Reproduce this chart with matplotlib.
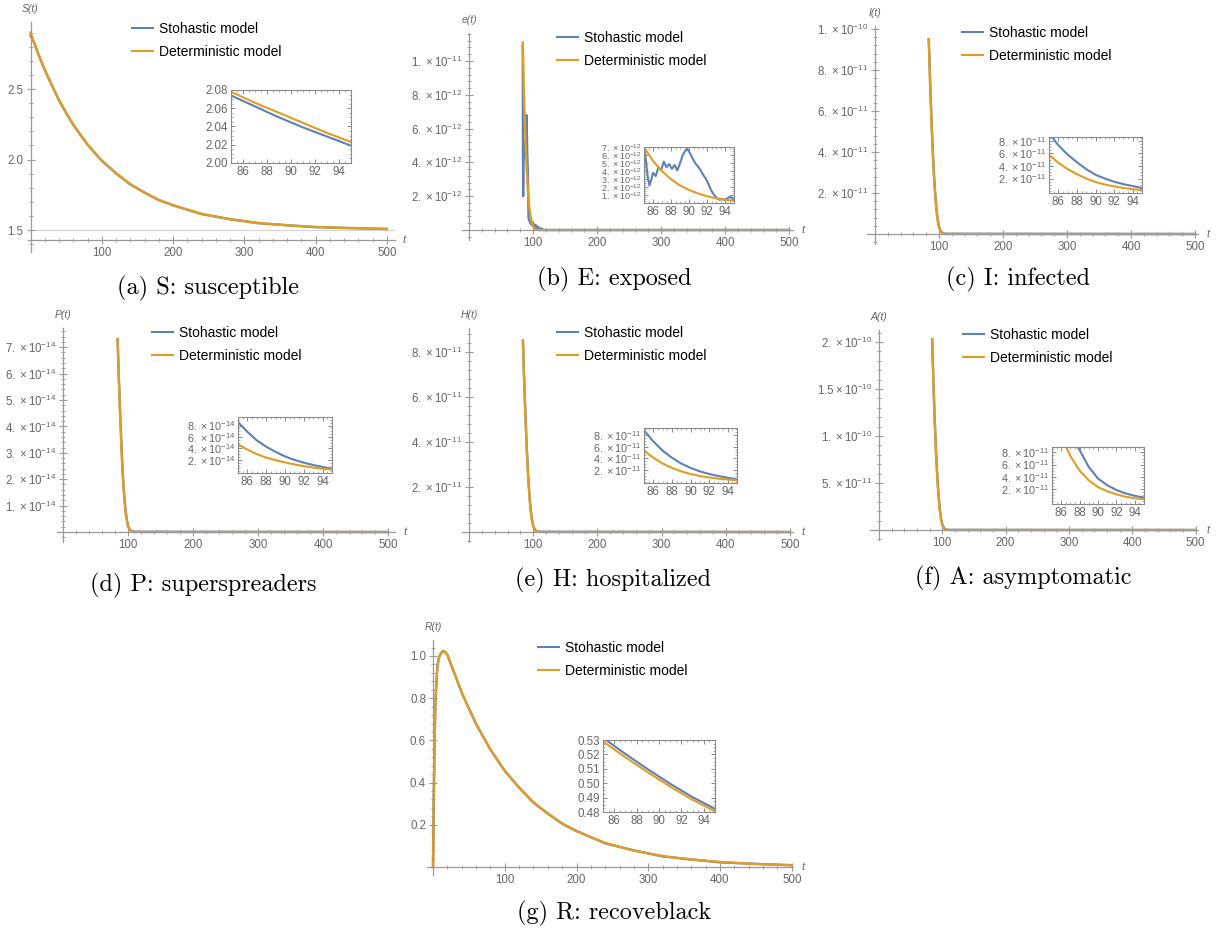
import numpy as np
import matplotlib.pyplot as plt
from matplotlib.ticker import FixedLocator, MultipleLocator, AutoMinorLocator, FuncFormatter
from matplotlib.lines import Line2D

plt.rcParams['font.family'] = ['Liberation Sans', 'DejaVu Sans']

W, H = 1223, 930
BLUE = '#5e81b5'
ORANGE = '#e19c24'
AXIS = '#9a9a9a'
LABEL = '#666666'

# ---------------- data ----------------
x_ticks = [100, 200, 300, 400, 500]
zoom_xticks = [86, 88, 90, 92, 94]

# (a) S: susceptible
s_t = [0, 5, 10, 20, 30, 40, 50, 60, 70, 80, 90, 100, 120, 140, 160, 180, 200,
       240, 280, 320, 360, 400, 450, 500]
s_det = [2.900, 2.829, 2.761, 2.637, 2.525, 2.423, 2.332, 2.249, 2.175, 2.109, 2.049,
         1.994, 1.902, 1.826, 1.765, 1.714, 1.675, 1.615, 1.576, 1.550, 1.533, 1.522,
         1.513, 1.508]
s_sto = [2.880, 2.830, 2.758, 2.634, 2.527, 2.419, 2.330, 2.246, 2.176, 2.106, 2.047,
         1.991, 1.903, 1.823, 1.766, 1.712, 1.676, 1.613, 1.577, 1.548, 1.534, 1.520,
         1.514, 1.507]
s_zoom_t = [85, 87, 89, 91, 93, 95]
s_zoom_det = [2.078, 2.066, 2.055, 2.044, 2.033, 2.023]
s_zoom_sto = [2.074, 2.062, 2.050, 2.039, 2.029, 2.019]

# common time grids for the fast-decaying compartments
peak_t = [84, 86, 88, 90, 92, 94, 96, 98, 100, 103, 106, 110, 500]
zoom_t = [85, 86, 87, 88, 89, 90, 91, 92, 93, 94, 95]

# (b) E: exposed  (x 1e-12)
e_det = [11.1, 7.9, 5.5, 3.7, 2.4, 1.45, 0.85, 0.45, 0.2, 0.06, 0.015, 0, 0]
e_sto_t = [84, 84.3, 84.6, 85, 86, 87, 88, 89, 89.6, 90.2, 91, 92, 93, 94, 96, 98,
           100, 102, 104, 106, 108, 110, 113, 116, 500]
e_sto = [10.9, 5.6, 2.0, 5.2, 4.3, 4.9, 4.6, 5.2, 6.8, 6.2, 4.5, 3.3, 0.7, 0.6, 0.4,
         0.3, 0.45, 0.1, 0.3, 0.05, 0.2, 0.0, 0.1, 0.0, 0.0]
e_zoom_det = [7.0, 5.3, 4.0, 3.0, 2.2, 1.65, 1.2, 0.85, 0.6, 0.4, 0.3]
e_zoom_sto_t = [85.0, 85.2, 85.4, 85.6, 85.8, 86.0, 86.3, 86.6, 86.9, 87.2, 87.5, 87.8,
                88.1, 88.4, 88.7, 89.0, 89.3, 89.6, 89.8, 90.1, 90.4, 90.7, 91.0, 91.3,
                91.6, 91.9, 92.2, 92.5, 92.8, 93.1, 93.4, 93.7, 94.0, 94.3, 94.6, 95.0]
e_zoom_sto = [7.0, 5.5, 3.4, 2.2, 2.9, 3.8, 3.4, 4.5, 4.1, 5.2, 4.5, 4.9, 4.3, 4.8,
              4.1, 5.0, 6.0, 6.6, 6.8, 6.3, 5.6, 5.0, 4.6, 4.1, 3.5, 3.0, 2.3, 1.5,
              1.0, 0.6, 0.4, 0.5, 0.4, 0.6, 0.8, 0.4]

# (c) I: infected  (x 1e-11)
i_det = [9.5, 7.4, 5.6, 4.1, 2.9, 1.9, 1.15, 0.65, 0.32, 0.1, 0.03, 0, 0]
i_sto = [9.5, 7.6, 5.8, 4.3, 3.0, 2.0, 1.25, 0.7, 0.35, 0.12, 0.04, 0.01, 0]
i_zoom_sto = [9.2, 7.3, 5.8, 4.6, 3.5, 2.6, 2.0, 1.5, 1.1, 0.8, 0.5]
i_zoom_det = [5.8, 4.5, 3.5, 2.7, 2.0, 1.45, 1.05, 0.75, 0.5, 0.3, 0.15]

# (d) P: superspreaders  (x 1e-14)
p_det = [7.3, 5.7, 4.3, 3.1, 2.1, 1.35, 0.8, 0.45, 0.2, 0.07, 0.02, 0, 0]
p_sto = [7.3, 5.8, 4.45, 3.25, 2.2, 1.45, 0.87, 0.5, 0.24, 0.08, 0.03, 0.01, 0]
p_zoom_sto = [8.6, 6.9, 5.4, 4.3, 3.4, 2.6, 2.0, 1.5, 1.1, 0.75, 0.45]
p_zoom_det = [4.7, 3.8, 3.0, 2.4, 1.95, 1.55, 1.2, 0.9, 0.65, 0.45, 0.3]

# (e) H: hospitalized  (x 1e-11)
h_det = [8.5, 6.6, 5.0, 3.6, 2.5, 1.6, 0.95, 0.52, 0.25, 0.08, 0.02, 0, 0]
h_sto = [8.5, 6.7, 5.15, 3.75, 2.6, 1.7, 1.02, 0.57, 0.28, 0.09, 0.03, 0.01, 0]
h_zoom_sto = [8.8, 6.9, 5.3, 4.1, 3.1, 2.35, 1.75, 1.3, 0.95, 0.65, 0.4]
h_zoom_det = [5.3, 4.1, 3.1, 2.35, 1.75, 1.3, 0.95, 0.7, 0.5, 0.35, 0.22]

# (f) A: asymptomatic  (x 1e-10 main, x 1e-11 zoom)
a_det = [2.03, 1.55, 1.15, 0.82, 0.56, 0.36, 0.21, 0.11, 0.05, 0.015, 0.004, 0, 0]
a_sto = [2.03, 1.58, 1.18, 0.85, 0.59, 0.38, 0.23, 0.12, 0.06, 0.02, 0.005, 0.001, 0]
a_zoom_sto = [17.0, 13.5, 10.6, 8.4, 5.6, 3.7, 2.6, 1.8, 1.25, 0.85, 0.55]
a_zoom_det = [15.7, 10.8, 7.4, 5.0, 3.4, 2.3, 1.6, 1.1, 0.7, 0.45, 0.3]

# (g) R: recovered
r_t = [0, 1, 2, 3, 4, 6, 8, 11, 14, 17, 20, 25, 30, 40, 50, 60, 70, 80, 90, 100, 120,
       140, 160, 180, 200, 240, 280, 320, 360, 400, 450, 500]
r_det = [0, 0.30, 0.55, 0.72, 0.83, 0.94, 0.99, 1.015, 1.022, 1.02, 1.005, 0.962, 0.915,
         0.828, 0.750, 0.680, 0.616, 0.558, 0.505, 0.457, 0.375, 0.307, 0.252, 0.207,
         0.169, 0.114, 0.077, 0.052, 0.035, 0.024, 0.014, 0.009]
r_sto = [0, 0.31, 0.54, 0.73, 0.82, 0.95, 0.99, 1.012, 1.024, 1.018, 1.007, 0.960, 0.917,
         0.826, 0.752, 0.678, 0.618, 0.556, 0.507, 0.455, 0.377, 0.305, 0.254, 0.205,
         0.171, 0.112, 0.079, 0.050, 0.036, 0.022, 0.015, 0.008]
r_zoom_t = [85, 87, 89, 91, 93, 95]
r_zoom_det = [0.5290, 0.5180, 0.5076, 0.4976, 0.4885, 0.4805]
r_zoom_sto = [0.5315, 0.5203, 0.5097, 0.4996, 0.4903, 0.4822]

legend_labels = ['Stohastic model', 'Deterministic model']

# ---------------- helpers ----------------
fig = plt.figure(figsize=(W / 100, H / 100), dpi=100)


def sci(v):
    if v <= 0:
        return ''
    e = int(np.floor(np.log10(v) + 1e-9))
    m = round(v / 10 ** e, 2)
    ms = f"{int(m)}." if m == int(m) else f"{m:g}"
    return r"$\mathregular{" + ms + r"\times10^{" + str(e) + "}}$"


def formatter(kind):
    if kind == 'sci':
        return FuncFormatter(lambda v, p: sci(v))
    return FuncFormatter(lambda v, p: kind.format(v))


def main_axes(x0, sx, y0, sy, xlim, ylim, yticks, yfmt, cross, ylabel):
    left = x0 + xlim[0] * sx
    right = x0 + xlim[1] * sx
    top = y0 - ylim[1] * sy
    bottom = y0 - ylim[0] * sy
    ax = fig.add_axes([left / W, 1 - bottom / H, (right - left) / W, (bottom - top) / H])
    ax.set_xlim(xlim)
    ax.set_ylim(ylim)
    ax.patch.set_alpha(0)
    for s in ['top', 'right']:
        ax.spines[s].set_visible(False)
    ax.spines['left'].set_position(('data', 0))
    ax.spines['bottom'].set_position(('data', cross))
    for s in ['left', 'bottom']:
        ax.spines[s].set_color(AXIS)
        ax.spines[s].set_linewidth(0.9)
    ax.xaxis.set_major_locator(FixedLocator(x_ticks))
    ax.xaxis.set_minor_locator(MultipleLocator(20))
    ax.yaxis.set_major_locator(FixedLocator(yticks))
    ax.yaxis.set_minor_locator(AutoMinorLocator(5))
    ax.yaxis.set_major_formatter(formatter(yfmt))
    ax.tick_params(which='both', direction='inout', color=AXIS, labelcolor=LABEL, labelsize=8.3)
    ax.tick_params(which='major', length=6, width=0.8, pad=2)
    ax.tick_params(which='minor', length=3, width=0.6)
    ax.annotate(ylabel, xy=(0, ylim[1]), xytext=(0, 9.5), textcoords='offset points',
                ha='center', va='center', style='italic', fontsize=7.5, color=LABEL,
                annotation_clip=False)
    ax.annotate('t', xy=(xlim[1], cross), xytext=(6, 0), textcoords='offset points',
                ha='left', va='center', style='italic', fontsize=8, color=LABEL,
                annotation_clip=False)
    return ax


def inset(box, ylim, yticks, yfmt, t_sto, sto, t_det, det, ysize=7.8):
    l, tp, r, b = box
    ax = fig.add_axes([l / W, 1 - b / H, (r - l) / W, (b - tp) / H])
    ax.plot(t_sto, sto, color=BLUE, lw=1.5)
    ax.plot(t_det, det, color=ORANGE, lw=1.5)
    ax.set_xlim(85, 95)
    ax.set_ylim(ylim)
    for s in ax.spines.values():
        s.set_color('#8a8a8a')
        s.set_linewidth(0.8)
    ax.xaxis.set_major_locator(FixedLocator(zoom_xticks))
    ax.xaxis.set_minor_locator(MultipleLocator(0.5))
    ax.yaxis.set_major_locator(FixedLocator(yticks))
    ax.yaxis.set_minor_locator(AutoMinorLocator(4))
    ax.yaxis.set_major_formatter(formatter(yfmt))
    ax.tick_params(which='both', direction='in', top=True, right=True, color='#8a8a8a',
                   labelcolor=LABEL, labelsize=8.3, pad=2)
    ax.tick_params(axis='y', labelsize=ysize)
    ax.tick_params(which='major', length=3, width=0.7)
    ax.tick_params(which='minor', length=1.5, width=0.5)
    return ax


def legend(ax, x, y):
    handles = [Line2D([], [], color=BLUE, lw=1.5), Line2D([], [], color=ORANGE, lw=1.5)]
    ax.legend(handles, legend_labels, loc='upper left',
              bbox_to_anchor=(x / W, 1 - (y - 7) / H), bbox_transform=fig.transFigure,
              frameon=False, borderpad=0, borderaxespad=0, handlelength=1.5,
              handletextpad=0.45, labelspacing=0.62, fontsize=10)


def caption(x, y, text):
    fig.text(x / W, 1 - y / H, text, ha='center', va='center',
             family=['cmr10', 'DejaVu Serif'], fontsize=17.5)


def scaled(vals, k):
    return [v * k for v in vals]


# ---------------- (a) ----------------
ax = main_axes(30.5, 0.7125, 441.5, 141, (-3.5, 511), (1.344, 2.975),
               [1.5, 2.0, 2.5], '{:.1f}', 1.429, 'S(t)')
ax.axhline(1.5, color='#d3d3d3', lw=0.8, zorder=0)
ax.plot(s_t, s_sto, color=BLUE, lw=1.7)
ax.plot(s_t, s_det, color=ORANGE, lw=1.7)
legend(ax, 132, 29)
inset((231, 90, 351, 163), (2.0, 2.08), [2.00, 2.02, 2.04, 2.06, 2.08], '{:.2f}',
      s_zoom_t, s_zoom_sto, s_zoom_t, s_zoom_det, ysize=8.3)
caption(208, 288, '(a) S: susceptible')

# ---------------- (b) ----------------
ax = main_axes(469, 0.64, 230, 16.9e12, (-11, 506), (-0.59e-12, 11.65e-12),
               [2e-12, 4e-12, 6e-12, 8e-12, 1e-11], 'sci', 0, 'e(t)')
ax.plot(e_sto_t, scaled(e_sto, 1e-12), color=BLUE, lw=1.7)
ax.plot(peak_t, scaled(e_det, 1e-12), color=ORANGE, lw=1.7)
legend(ax, 557, 38)
inset((644, 147, 734, 203), (0, 7.05e-12), [k * 1e-12 for k in range(1, 8)], 'sci',
      e_zoom_sto_t, scaled(e_zoom_sto, 1e-12), zoom_t, scaled(e_zoom_det, 1e-12), ysize=6.5)
caption(614, 279, '(b) E: exposed')

# ---------------- (c) ----------------
ax = main_axes(875, 0.64, 234, 20.5e11, (-12.5, 505), (-0.49e-11, 10.15e-11),
               [2e-11, 4e-11, 6e-11, 8e-11, 1e-10], 'sci', 0, 'I(t)')
ax.plot(peak_t, scaled(i_sto, 1e-11), color=BLUE, lw=1.7)
ax.plot(peak_t, scaled(i_det, 1e-11), color=ORANGE, lw=1.7)
legend(ax, 962, 33)
inset((1049, 137, 1142, 193), (-0.3e-11, 8.6e-11), [2e-11, 4e-11, 6e-11, 8e-11], 'sci',
      zoom_t, scaled(i_zoom_sto, 1e-11), zoom_t, scaled(i_zoom_det, 1e-11))
caption(1018, 279, '(c) I: infected')

# ---------------- (d) ----------------
ax = main_axes(63, 0.65, 532, 26.4e14, (-9, 511), (-0.38e-14, 7.73e-14),
               [k * 1e-14 for k in range(1, 8)], 'sci', 0, 'P(t)')
ax.plot(peak_t, scaled(p_sto, 1e-14), color=BLUE, lw=1.7)
ax.plot(peak_t, scaled(p_det, 1e-14), color=ORANGE, lw=1.7)
legend(ax, 152, 333)
inset((238, 417, 332, 473), (-0.3e-14, 9.5e-14), [2e-14, 4e-14, 6e-14, 8e-14], 'sci',
      zoom_t, scaled(p_zoom_sto, 1e-14), zoom_t, scaled(p_zoom_det, 1e-14))
caption(203, 585, '(d) P: superspreaders')

# ---------------- (e) ----------------
ax = main_axes(469, 0.642, 532, 22.5e11, (-11, 505), (-0.44e-11, 9.07e-11),
               [2e-11, 4e-11, 6e-11, 8e-11], 'sci', 0, 'H(t)')
ax.plot(peak_t, scaled(h_sto, 1e-11), color=BLUE, lw=1.7)
ax.plot(peak_t, scaled(h_det, 1e-11), color=ORANGE, lw=1.7)
legend(ax, 557, 333)
inset((644, 428, 737, 483), (-0.25e-11, 9.2e-11), [2e-11, 4e-11, 6e-11, 8e-11], 'sci',
      zoom_t, scaled(h_zoom_sto, 1e-11), zoom_t, scaled(h_zoom_det, 1e-11))
caption(613, 580, '(e) H: hospitalized')

# ---------------- (f) ----------------
ax = main_axes(879, 0.633, 530, 9.4e11, (-14, 504), (-1.06e-11, 21.3e-11),
               [5e-11, 1e-10, 1.5e-10, 2e-10], 'sci', 0, 'A(t)')
ax.plot(peak_t, scaled(a_sto, 1e-10), color=BLUE, lw=1.7)
ax.plot(peak_t, scaled(a_det, 1e-10), color=ORANGE, lw=1.7)
legend(ax, 963, 335)
inset((1052, 447, 1144, 504), (-0.5e-11, 8.9e-11), [2e-11, 4e-11, 6e-11, 8e-11], 'sci',
      zoom_t, scaled(a_zoom_sto, 1e-11), zoom_t, scaled(a_zoom_det, 1e-11))
caption(1023, 578, '(f) A: asymptomatic')

# ---------------- (g) ----------------
ax = main_axes(433, 0.7175, 867, 211, (-8, 502), (-0.038, 1.076),
               [0.2, 0.4, 0.6, 0.8, 1.0], '{:.1f}', 0, 'R(t)')
ax.plot(r_t, r_sto, color=BLUE, lw=1.7)
ax.plot(r_t, r_det, color=ORANGE, lw=1.7)
legend(ax, 538, 648)
inset((603, 740, 715, 812), (0.48, 0.53), [0.48, 0.49, 0.50, 0.51, 0.52, 0.53], '{:.2f}',
      r_zoom_t, r_zoom_sto, r_zoom_t, r_zoom_det, ysize=8.3)
caption(614, 913, '(g) R: recoveblack')

fig.savefig('out.png', dpi=100)
